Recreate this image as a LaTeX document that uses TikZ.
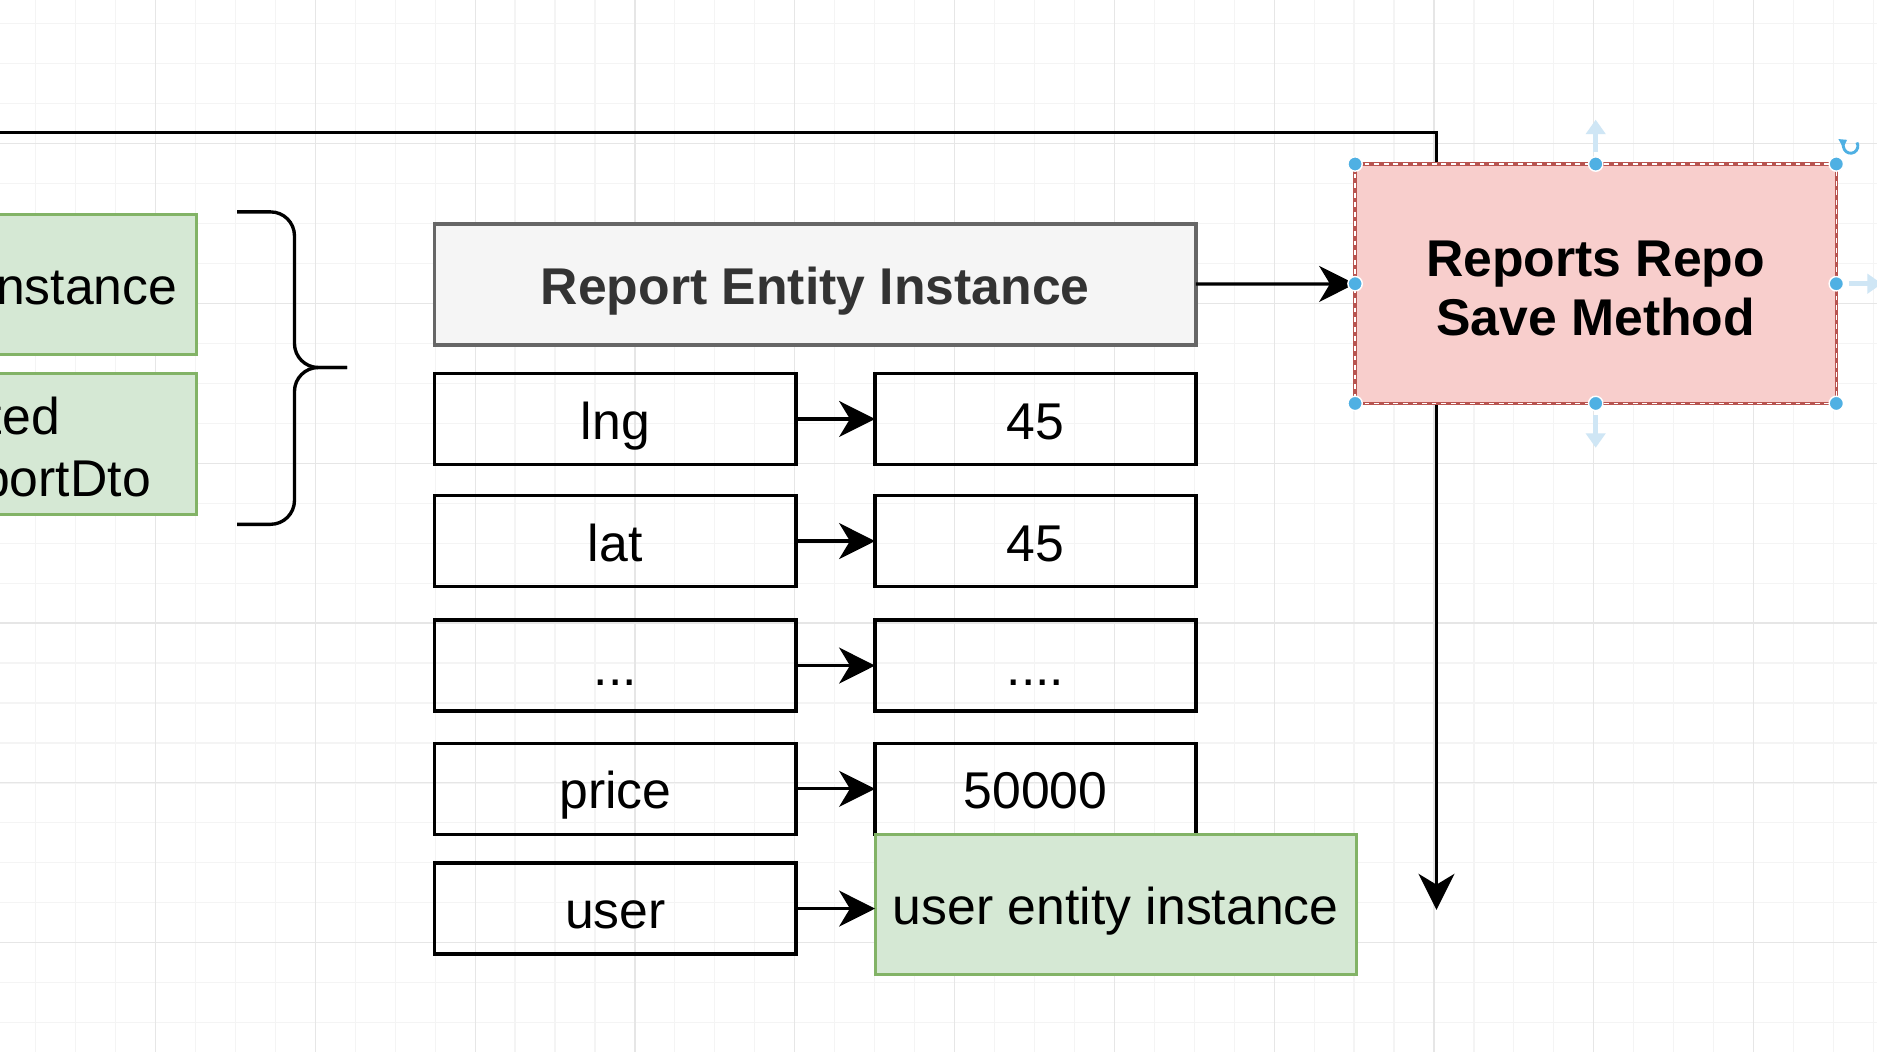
\documentclass[tikz,border=0pt]{standalone}
\usepackage{fontspec}
\setmainfont{Liberation Sans}
\usetikzlibrary{arrows.meta}
\newcommand\diafont{\fontsize{21.6pt}{25pt}\selectfont}
\definecolor{gridmin}{HTML}{F4F4F4}
\definecolor{gridmaj}{HTML}{E6E6E6}
\definecolor{greenfill}{HTML}{D5E8D4}
\definecolor{greenline}{HTML}{82B366}
\definecolor{greyfill}{HTML}{F5F5F5}
\definecolor{greyline}{HTML}{666666}
\definecolor{pinkfill}{HTML}{F8CECC}
\definecolor{pinkline}{HTML}{B85450}
\definecolor{darktxt}{HTML}{333333}
\definecolor{handle}{HTML}{4FB0E3}
\definecolor{hint}{HTML}{CFE6F5}
\tikzset{
  every node/.style={inner sep=0pt, outer sep=0pt, font=\diafont},
  field/.style={draw, line width=1.5pt, minimum height=38pt, text height=16.8pt, text depth=0pt},
  keybox/.style={field, minimum width=151pt},
  valbox/.style={field, minimum width=134pt},
  greenbox/.style={draw=greenline, fill=greenfill, line width=1.25pt},
  link/.style={line width=1.35pt, -{Stealth[length=15pt, width=15pt, inset=4.5pt]}},
  hintarrow/.style={hint, line width=2pt, -{Triangle[length=6pt, width=8pt]}}
}

\begin{document}
\begin{tikzpicture}[x=0.5pt, y=-0.5pt]
\useasboundingbox (0,0) rectangle (1568,879);
\clip (0,0) rectangle (1568,879);
\fill[white] (0,0) rectangle (1568,879);
\foreach \i in {0,...,47} \draw[gridmin, line width=0.5pt] ({-3.6+33.375*\i},0) -- ++(0,879);
\foreach \i in {0,...,26} \draw[gridmin, line width=0.5pt] (0,{19.9+33.375*\i}) -- ++(1568,0);
\foreach \i in {0,...,12} \draw[gridmaj, line width=0.5pt] ({-3.6+133.5*\i},0) -- ++(0,879);
\foreach \i in {0,...,6} \draw[gridmaj, line width=0.5pt] (0,{-13.5+133.5*\i}) -- ++(1568,0);

\coordinate (feed) at (-10,111);
\coordinate (drop) at (1200,760);
\draw[link] (feed) -| (drop);

\node[greenbox, minimum width=200pt, minimum height=58.5pt, anchor=east] (inst) at (164,237.5) {};
\node[anchor=base east] (insttxt) at (148,254) {nstance};
\node[greenbox, minimum width=200pt, minimum height=59pt, anchor=east] (dto) at (164,371) {};
\node[anchor=base east] (dtotop) at (50,363) {ted};
\node[anchor=base east] (dtobot) at (126,415) {portDto};

\draw[line width=1.4pt, rounded corners=10pt] (198,177) -- (246,177) -- (246,307) -- (290,307);
\draw[line width=1.4pt, rounded corners=10pt] (290,307) -- (246,307) -- (246,438) -- (198,438);

\node[draw=greyline, fill=greyfill, line width=1.5pt, minimum width=318pt, minimum height=50.5pt,
  text height=16.8pt, text depth=0pt, font=\diafont\bfseries, text=darktxt] (rei) at (681,237.5) {Report Entity Instance};

\node[keybox] (key1) at (514,350) {lng};
\node[valbox] (val1) at (865,350) {45};
\draw[link] (key1) -- (val1);
\node[keybox] (key2) at (514,452) {lat};
\node[valbox] (val2) at (865,452) {45};
\draw[link] (key2) -- (val2);
\node[keybox] (key3) at (514,556) {...};
\node[valbox] (val3) at (865,556) {....};
\draw[link] (key3) -- (val3);
\node[keybox] (key4) at (514,659) {price};
\node[valbox] (val4) at (865,659) {50000};
\draw[link] (key4) -- (val4);
\node[keybox] (key5) at (514,759) {user};
\node[greenbox, minimum width=201pt, minimum height=58.5pt, text height=16.8pt, text depth=0pt] (uent) at (932,755.5) {user entity instance};
\draw[link] (key5) -- (key5 -| uent.west);

\node[draw=pinkline, fill=pinkfill, line width=1.5pt, minimum width=201pt, minimum height=100pt,
  align=center, font=\diafont\bfseries] (repo) at (1333,237) {};
\node[align=center, font=\diafont\bfseries] (repotxt) at (1333,241) {Reports Repo\\Save Method};
\draw[white, line width=0.5pt, dash pattern=on 2pt off 2pt] (repo.north west) rectangle (repo.south east);
\draw[link] (rei) -- (repo);
\foreach \a in {north west, north, north east, east, south east, south, south west, west}
  \filldraw[fill=handle, draw=white, line width=0.6pt] (repo.\a) circle (3pt);

\coordinate (upfrom) at (1333,127);
\coordinate (upto) at (1333,100);
\coordinate (dnfrom) at (1333,347);
\coordinate (dnto) at (1333,374);
\coordinate (rtfrom) at (1545,237);
\coordinate (rtto) at (1572,237);
\draw[hintarrow] (upfrom) -- (upto);
\draw[hintarrow] (dnfrom) -- (dnto);
\draw[hintarrow] (rtfrom) -- (rtto);
\draw[handle, line width=1.2pt, -{Triangle[length=3pt, width=4pt]}] (1546,122) ++(-30:6) arc (-30:240:6);
\end{tikzpicture}
\end{document}
